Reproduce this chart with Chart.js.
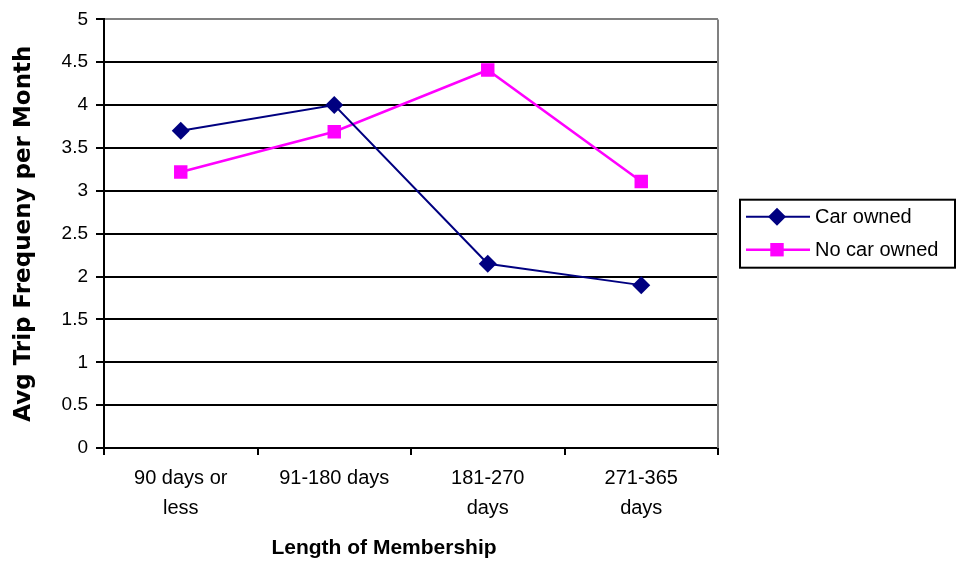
<!DOCTYPE html>
<html>
<head>
<meta charset="utf-8">
<script src="https://cdn.jsdelivr.net/npm/chart.js@4/dist/chart.umd.min.js"></script>
<style>
  html, body { margin: 0; padding: 0; background: #fff; }
  #wrap { width: 956px; height: 564px; }
</style>
</head>
<body>
<div id="wrap"><canvas id="tripChart"></canvas></div>
<script>
// data
const categories = [['90 days or', 'less'], '91-180 days', ['181-270', 'days'], ['271-365', 'days']];
const carOwned = [3.7, 4.0, 2.15, 1.9];
const noCarOwned = [3.22, 3.69, 4.41, 3.11];
const yTicks = [0, 0.5, 1, 1.5, 2, 2.5, 3, 3.5, 4, 4.5, 5];
const yTitle = 'Avg Trip Frequeny per Month';
const xTitle = 'Length of Membership';

Chart.defaults.font.family = "'Liberation Sans', Arial, sans-serif";
Chart.defaults.color = '#000';

// square + diamond marker, used by the legend
function marker(ctx, style, r, x, y) {
  ctx.beginPath();
  if (style === 'rectRot') {
    ctx.moveTo(x, y - r); ctx.lineTo(x + r, y); ctx.lineTo(x, y + r); ctx.lineTo(x - r, y);
  } else {
    const s = r * Math.SQRT1_2;
    ctx.rect(x - s, y - s, 2 * s, 2 * s);
  }
  ctx.closePath();
  ctx.fill();
}

const extras = {
  id: 'extras',
  afterDraw(chart) {
    const { ctx, chartArea } = chart;
    ctx.save();
    // grey frame on the right side of the plot
    ctx.strokeStyle = '#808080';
    ctx.lineWidth = 2;
    ctx.beginPath();
    ctx.moveTo(chartArea.right, chartArea.top);
    ctx.lineTo(chartArea.right, chartArea.bottom);
    ctx.stroke();

    // x axis title, Excel puts it a little left of centre
    ctx.fillStyle = '#000';
    ctx.font = "bold 21px 'Liberation Sans', Arial, sans-serif";
    ctx.textAlign = 'center';
    ctx.textBaseline = 'middle';
    ctx.fillText(xTitle, (chartArea.left + chartArea.right) / 2 - 27, chartArea.bottom + 100);

    // legend box
    const w = 215, h = 68;
    const lx = chartArea.right + 22;
    const ly = (chartArea.top + chartArea.bottom) / 2 - h / 2;
    ctx.strokeStyle = '#000';
    ctx.lineWidth = 2;
    ctx.strokeRect(lx, ly, w, h);
    ctx.textAlign = 'left';
    ctx.font = "20px 'Liberation Sans', Arial, sans-serif";
    chart.data.datasets.forEach((ds, i) => {
      const cy = ly + 17 + i * 33;
      ctx.strokeStyle = ds.borderColor;
      ctx.lineWidth = ds.borderWidth;
      ctx.beginPath();
      ctx.moveTo(lx + 6, cy);
      ctx.lineTo(lx + 70, cy);
      ctx.stroke();
      ctx.fillStyle = ds.pointBackgroundColor;
      marker(ctx, ds.pointStyle, ds.pointRadius, lx + 37, cy);
      ctx.fillStyle = '#000';
      ctx.fillText(ds.label, lx + 75, cy + 1);
    });
    ctx.restore();
  }
};

new Chart(document.getElementById('tripChart'), {
  type: 'line',
  data: {
    labels: categories,
    datasets: [
      {
        label: 'Car owned',
        data: carOwned,
        borderColor: '#000080',
        backgroundColor: '#000080',
        pointBackgroundColor: '#000080',
        pointBorderWidth: 0,
        pointStyle: 'rectRot',
        pointRadius: 9,
        borderWidth: 2,
        tension: 0
      },
      {
        label: 'No car owned',
        data: noCarOwned,
        borderColor: '#ff00ff',
        backgroundColor: '#ff00ff',
        pointBackgroundColor: '#ff00ff',
        pointBorderWidth: 0,
        pointStyle: 'rect',
        pointRadius: 9.5,
        borderWidth: 2.5,
        tension: 0
      }
    ]
  },
  options: {
    responsive: true,
    maintainAspectRatio: false,
    animation: false,
    layout: { padding: { left: 10, right: 238, top: 17, bottom: 0 } },
    plugins: {
      legend: { display: false },
      tooltip: { enabled: false }
    },
    scales: {
      x: {
        offset: true,
        border: { color: '#000', width: 2 },
        grid: {
          offset: true,
          drawOnChartArea: false,
          color: '#000',
          lineWidth: 2,
          tickLength: 7
        },
        ticks: {
          font: { size: 20, lineHeight: 1.5 },
          maxRotation: 0,
          autoSkip: false,
          padding: 8
        },
        afterFit(scale) { scale.height = 116; }
      },
      y: {
        min: 0,
        max: 5,
        afterBuildTicks(scale) { scale.ticks = yTicks.map(v => ({ value: v })); },
        border: { color: '#000', width: 2 },
        grid: {
          color: ctx => (ctx.tick && ctx.tick.value === 5 ? '#808080' : '#000'),
          tickColor: '#000',
          lineWidth: 2,
          tickLength: 8
        },
        ticks: {
          font: { size: 19 },
          padding: 8,
          callback: v => String(v)
        },
        title: {
          display: true,
          text: yTitle,
          font: { family: "'DejaVu Sans', sans-serif", size: 23, weight: 'bold' },
          padding: { top: 0, bottom: 0 }
        },
        afterFit(scale) { scale.width = 94; }
      }
    }
  },
  plugins: [extras]
});
</script>
</body>
</html>
